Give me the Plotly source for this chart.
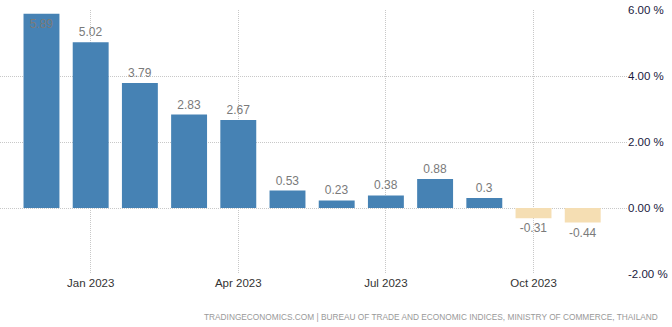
import plotly.graph_objects as go

# Monthly inflation rate, Dec 2022 - Nov 2023 (%)
months = ["Dec 2022", "Jan 2023", "Feb 2023", "Mar 2023", "Apr 2023", "May 2023",
          "Jun 2023", "Jul 2023", "Aug 2023", "Sep 2023", "Oct 2023", "Nov 2023"]
values = [5.89, 5.02, 3.79, 2.83, 2.67, 0.53, 0.23, 0.38, 0.88, 0.3, -0.31, -0.44]
tick_labels = ["Jan 2023", "Apr 2023", "Jul 2023", "Oct 2023"]
tick_months = ["Jan 2023", "Apr 2023", "Jul 2023", "Oct 2023"]
y_ticks = [6, 4, 2, 0, -2]

FONT = "Liberation Sans"
pos = list(range(len(months)))
colors = ["#4682b4" if v >= 0 else "#f5deb3" for v in values]
text_pos = ["inside" if v > 5.5 else "outside" for v in values]

fig = go.Figure(go.Bar(
    x=pos, y=values, width=0.73,
    marker=dict(color=colors, line=dict(width=0)),
    text=[f"{v:g}" for v in values],
    textposition=text_pos,
    insidetextanchor="end",
    textfont=dict(family=FONT, size=12, color="#7a7a7a"),
    insidetextfont=dict(family=FONT, size=12, color="#7a7a7a"),
    outsidetextfont=dict(family=FONT, size=12, color="#7a7a7a"),
    cliponaxis=False,
    hoverinfo="skip",
))

fig.update_layout(
    width=672, height=327,
    margin=dict(l=0, r=45, t=10, b=53),
    paper_bgcolor="white", plot_bgcolor="white",
    showlegend=False,
    uniformtext=dict(mode=False),
    xaxis=dict(
        range=[-0.843, 11.9],
        tickvals=[months.index(m) for m in tick_months],
        ticktext=tick_labels,
        showgrid=True, gridcolor="#c8c8c8", griddash="1px,1px", gridwidth=1,
        zeroline=False, showline=False, ticks="",
        tickfont=dict(family=FONT, size=11.5, color="#333333"),
    ),
    yaxis=dict(
        side="right", range=[-2, 6],
        tickvals=y_ticks,
        ticktext=[f"{v:.2f} %" for v in y_ticks],
        showgrid=True, gridcolor="#c8c8c8", griddash="1px,1px", gridwidth=1,
        zeroline=False, showline=False, ticks="",
        tickfont=dict(family=FONT, size=11.5, color="#1a1a40"),
    ),
    annotations=[dict(
        text="TRADINGECONOMICS.COM | BUREAU OF TRADE AND ECONOMIC INDICES, MINISTRY OF COMMERCE, THAILAND",
        xref="paper", yref="paper", x=660 / 627, y=0, yshift=-43,
        xanchor="right", yanchor="middle", showarrow=False,
        font=dict(family=FONT, size=8.3, color="#999999"),
    )],
)

fig.write_html("out.html")
